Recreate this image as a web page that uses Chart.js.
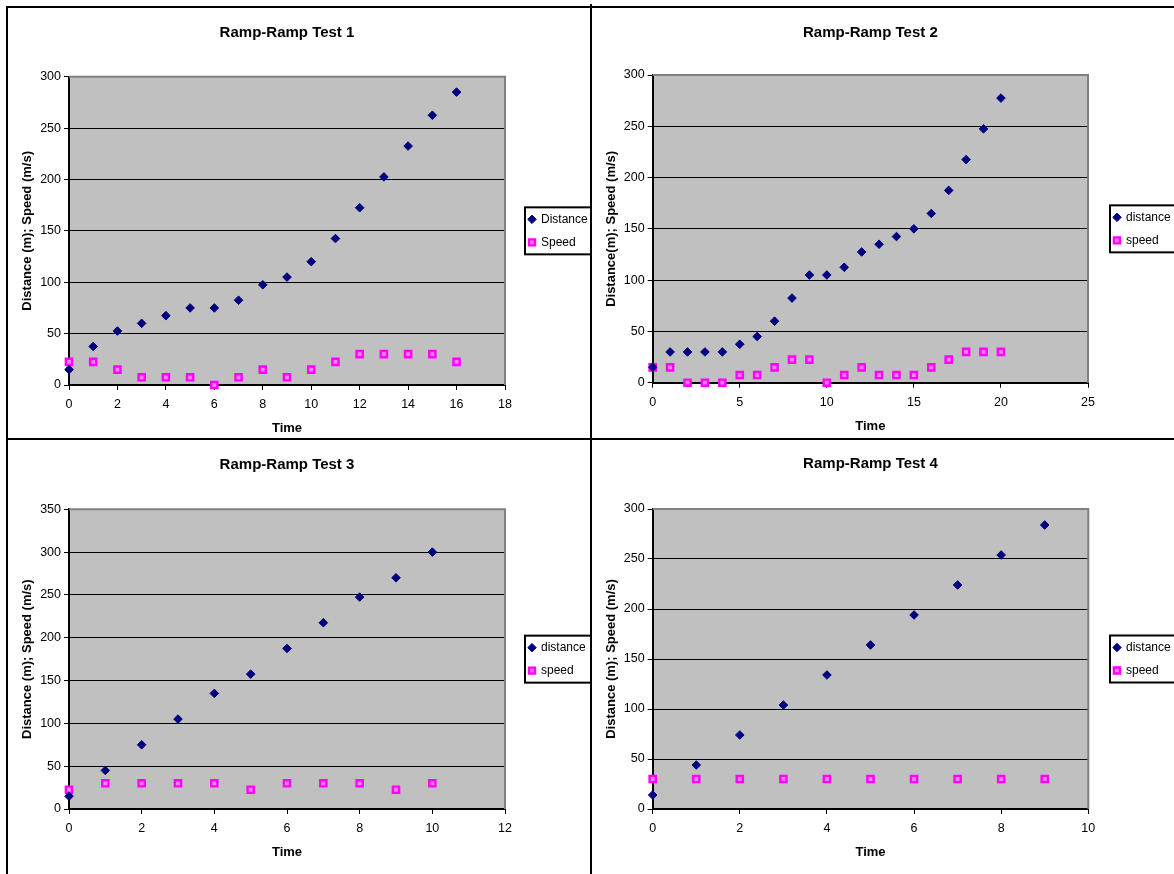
<!DOCTYPE html>
<html>
<head>
<meta charset="utf-8">
<script src="https://cdn.jsdelivr.net/npm/chart.js@4.4.1/dist/chart.umd.min.js"></script>
<style>
  body { margin: 0; background: #fff; width: 1174px; height: 874px; overflow: hidden; position: relative; }
  canvas { position: absolute; }
  .ln { position: absolute; background: #000; z-index: 2; }
</style>
</head>
<body>
<canvas id="c1" width="582" height="430" style="left:8px;top:8px"></canvas>
<canvas id="c2" width="582" height="430" style="left:592px;top:8px"></canvas>
<canvas id="c3" width="582" height="434" style="left:8px;top:440px"></canvas>
<canvas id="c4" width="582" height="434" style="left:592px;top:440px"></canvas>
<div class="ln" style="left:6px;top:6px;width:2px;height:868px"></div>
<div class="ln" style="left:590px;top:4px;width:2px;height:870px"></div>
<div class="ln" style="left:6px;top:6px;width:1168px;height:2px"></div>
<div class="ln" style="left:6px;top:438px;width:1168px;height:2px"></div>
<script>
// data
const test1Time = [0, 1, 2, 3, 4, 5, 6, 7, 8, 9, 10, 11, 12, 13, 14, 15, 16];
const test1Distance = [15, 37.5, 52.5, 60, 67.5, 75, 75, 82.5, 97.5, 105, 120, 142.5, 172.5, 202.5, 232.5, 262.5, 285];
const test1Speed = [22.5, 22.5, 15, 7.5, 7.5, 7.5, 0, 7.5, 15, 7.5, 15, 22.5, 30, 30, 30, 30, 22.5];

const test2Time = [0, 1, 2, 3, 4, 5, 6, 7, 8, 9, 10, 11, 12, 13, 14, 15, 16, 17, 18, 19, 20];
const test2Distance = [15, 30, 30, 30, 30, 37.5, 45, 60, 82.5, 105, 105, 112.5, 127.5, 135, 142.5, 150, 165, 187.5, 217.5, 247.5, 277.5];
const test2Speed = [15, 15, 0, 0, 0, 7.5, 7.5, 15, 22.5, 22.5, 0, 7.5, 15, 7.5, 7.5, 7.5, 15, 22.5, 30, 30, 30];

const test3Time = [0, 1, 2, 3, 4, 5, 6, 7, 8, 9, 10];
const test3Distance = [15, 45, 75, 105, 135, 157.5, 187.5, 217.5, 247.5, 270, 300];
const test3Speed = [22.5, 30, 30, 30, 30, 22.5, 30, 30, 30, 22.5, 30];

const test4Time = [0, 1, 2, 3, 4, 5, 6, 7, 8, 9];
const test4Distance = [14, 44, 74, 104, 134, 164, 194, 224, 254, 284];
const test4Speed = [30, 30, 30, 30, 30, 30, 30, 30, 30, 30];

const FONT = '"Liberation Sans", Arial, sans-serif';

// grey plot area, grey top/right frame, boxed legend
const plotFrame = {
  id: 'plotFrame',
  beforeDraw(chart) {
    const a = chart.chartArea, ctx = chart.ctx;
    ctx.save();
    ctx.fillStyle = '#c0c0c0';
    ctx.fillRect(a.left, a.top, a.width, a.height);
    ctx.restore();
  },
  beforeDatasetsDraw(chart) {
    const a = chart.chartArea, ctx = chart.ctx;
    ctx.save();
    ctx.strokeStyle = '#808080';
    ctx.lineWidth = 2;
    ctx.beginPath();
    ctx.moveTo(a.left, a.top);
    ctx.lineTo(a.right, a.top);
    ctx.lineTo(a.right, a.bottom);
    ctx.stroke();
    ctx.restore();
  },
  afterDraw(chart, args, opts) {
    const a = chart.chartArea, ctx = chart.ctx;
    const mid = (a.top + a.bottom) / 2;
    ctx.save();
    ctx.strokeStyle = '#000';
    ctx.lineWidth = 2;
    ctx.strokeRect(opts.marker - 7, mid - 23.5, chart.width + 10, 47);
    ctx.restore();
  }
};

function makeChart(id, title, yTitle, names, time, dist, speed, xMax, xStep, yMax, box) {
  const canvas = document.getElementById(id);
  const W = canvas.width, H = canvas.height;
  const gap = box.marker - 3 - 11 - box.R;
  return new Chart(canvas, {
    type: 'scatter',
    data: {
      datasets: [
        {
          label: names[0],
          data: time.map((t, i) => ({x: t, y: dist[i]})),
          pointStyle: 'rectRot',
          pointRadius: 4.3,
          backgroundColor: '#000080',
          borderColor: '#000080',
          borderWidth: 1,
          clip: false
        },
        {
          label: names[1],
          data: time.map((t, i) => ({x: t, y: speed[i]})),
          pointStyle: 'rect',
          pointRadius: 4.4,
          backgroundColor: '#ff80ff',
          borderColor: '#ff00ff',
          borderWidth: 2.4,
          clip: false
        }
      ]
    },
    options: {
      responsive: false,
      animation: false,
      events: [],
      layout: {padding: {left: 0, top: 0, bottom: 0, right: 0}},
      plugins: {
        title: {
          display: true,
          text: title,
          fullSize: false,
          color: '#000',
          font: {family: FONT, size: 15, weight: 'bold'},
          padding: {top: box.titleY - 9 + 1.5, bottom: box.T - box.titleY - 9 - 1.5}
        },
        legend: {
          position: 'right',
          fullSize: false,
          maxWidth: W - box.R - gap,
          labels: {
            usePointStyle: true,
            boxWidth: 6,
            boxHeight: 6,
            padding: 11,
            color: '#000',
            font: {family: FONT, size: 12}
          }
        },
        tooltip: {enabled: false},
        plotFrame: {marker: box.marker}
      },
      scales: {
        x: {
          type: 'linear',
          min: 0,
          max: xMax,
          ticks: {stepSize: xStep, color: '#000', padding: 7.5, font: {family: FONT, size: 12.5}},
          grid: {drawOnChartArea: false, tickLength: 5, color: '#000'},
          border: {color: '#000', width: 2},
          title: {
            display: true,
            text: 'Time',
            color: '#000',
            font: {family: FONT, size: 13, weight: 'bold'},
            padding: {top: 0, bottom: H - box.timeY - 7.8}
          },
          afterFit: s => { s.height = H - box.B; }
        },
        y: {
          type: 'linear',
          min: 0,
          max: yMax,
          ticks: {stepSize: 50, color: '#000', padding: 3, font: {family: FONT, size: 12.5}},
          grid: {
            color: c => (c.tick && c.tick.value === yMax) ? '#808080' : '#000',
            tickColor: '#000',
            tickLength: 5,
            lineWidth: 1
          },
          border: {color: '#000', width: 2},
          title: {
            display: true,
            text: yTitle,
            color: '#000',
            font: {family: FONT, size: 13, weight: 'bold'},
            padding: {top: 11.2, bottom: 0}
          },
          afterFit: s => { s.width = box.L; }
        },
        gap: {
          type: 'linear',
          position: 'right',
          display: true,
          ticks: {display: false},
          grid: {display: false},
          border: {display: false},
          afterFit: s => { s.width = gap; }
        }
      }
    },
    plugins: [plotFrame]
  });
}

makeChart('c1', 'Ramp-Ramp Test 1', 'Distance (m); Speed (m/s)', ['Distance', 'Speed'],
  test1Time, test1Distance, test1Speed, 18, 2, 300,
  {L: 61, T: 68.7, R: 497, B: 377, titleY: 23, timeY: 420, marker: 524});
makeChart('c2', 'Ramp-Ramp Test 2', 'Distance(m); Speed (m/s)', ['distance', 'speed'],
  test2Time, test2Distance, test2Speed, 25, 5, 300,
  {L: 60.7, T: 67, R: 496, B: 374.7, titleY: 23, timeY: 418, marker: 525});
makeChart('c3', 'Ramp-Ramp Test 3', 'Distance (m); Speed (m/s)', ['distance', 'speed'],
  test3Time, test3Distance, test3Speed, 12, 2, 350,
  {L: 61, T: 69.3, R: 497, B: 369, titleY: 23, timeY: 412, marker: 524});
makeChart('c4', 'Ramp-Ramp Test 4', 'Distance (m); Speed (m/s)', ['distance', 'speed'],
  test4Time, test4Distance, test4Speed, 10, 2, 300,
  {L: 60.7, T: 69, R: 496.3, B: 369, titleY: 22, timeY: 412, marker: 525});
</script>
</body>
</html>
